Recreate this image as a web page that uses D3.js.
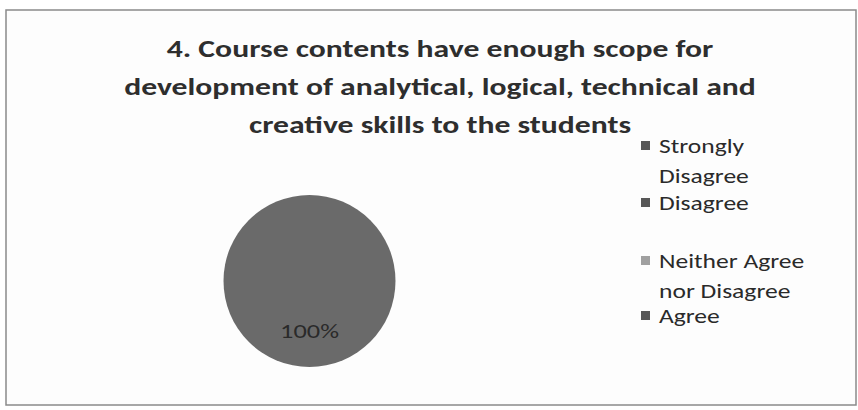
<!DOCTYPE html>
<html><head><meta charset="utf-8">
<script src="https://cdn.jsdelivr.net/npm/d3@7"></script>
<style>body{margin:0;background:#fff}svg{display:block}</style>
</head><body>
<svg id="c" width="858" height="410"></svg>
<script>
const categories = ["Strongly Disagree", "Disagree", "Neither Agree nor Disagree", "Agree"];
const legendLines = [["Strongly", "Disagree"], ["Disagree"], ["Neither Agree", "nor Disagree"], ["Agree"]];
const values = [0, 0, 0, 100];
const colors = ["#575757", "#575757", "#a0a0a0", "#6a6a6a"];
const titleLines = ["4. Course contents have enough scope for",
  "development of analytical, logical, technical and",
  "creative skills to the students"];

const svg = d3.select("#c");
const font = "Carlito, 'Open Sans', 'Liberation Sans', sans-serif";
svg.append("rect").attr("x", 6).attr("y", 10).attr("width", 850).attr("height", 395)
  .attr("fill", "#fdfdfd").attr("stroke", "#8a8a8a").attr("stroke-width", 1.5);

function stretchedText(g, x, y, txt, size, sx, anchor, weight, fill) {
  return g.append("text")
    .attr("transform", `translate(${x},${y}) scale(${sx},1)`)
    .attr("text-anchor", anchor)
    .attr("font-family", font).attr("font-weight", weight).attr("font-size", size)
    .attr("fill", fill).text(txt);
}

const tg = svg.append("g");
const titleY = [57, 95, 133];
titleLines.forEach((t, i) => {
  stretchedText(tg, 440, titleY[i], t, 24, 1.32, "middle", "bold", "#2e2e2e");
});

const cx = 309.5, cy = 281, r = 86;
const pie = d3.pie().sort(null).value(d => d)(values);
const arc = d3.arc().innerRadius(0).outerRadius(r);
const pg = svg.append("g").attr("transform", `translate(${cx},${cy})`);
pg.selectAll("path").data(pie).join("path")
  .attr("d", arc).attr("fill", (d, i) => colors[i]);
const total = d3.sum(values);
pie.forEach((d, i) => {
  if (d.value > 0) {
    const pct = Math.round(d.value / total * 100) + "%";
    stretchedText(pg, 0, r * 0.66, pct, 20, 1.32, "middle", "normal", "#2a2a2a");
  }
});

const lg = svg.append("g");
const legY = [153, 210, 268, 323];
categories.forEach((c, i) => {
  lg.append("rect").attr("x", 641).attr("y", legY[i] - 12).attr("width", 9).attr("height", 9)
    .attr("fill", colors[i] === "#6a6a6a" ? "#575757" : colors[i]);
  legendLines[i].forEach((l, j) => {
    stretchedText(lg, 659, legY[i] + j * 29.5, l, 19.5, 1.31, "start", "500", "#2a2a2a");
  });
});
</script>
</body></html>
